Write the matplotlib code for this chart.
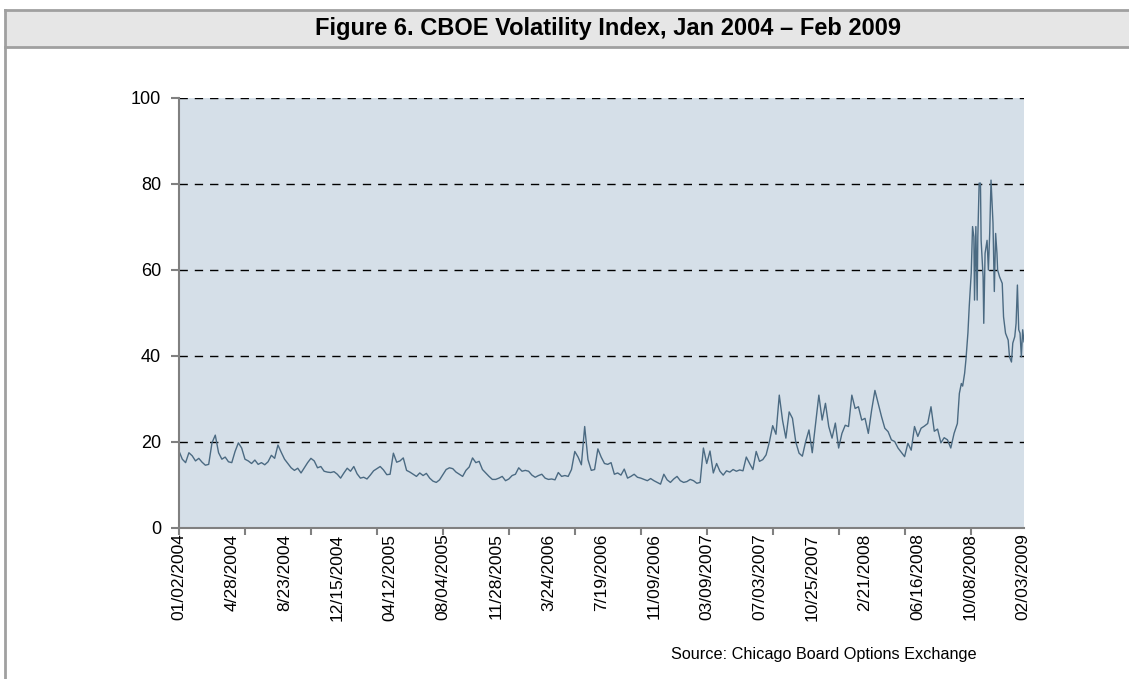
import numpy as np
import matplotlib.pyplot as plt
from matplotlib.patches import Rectangle
from matplotlib.lines import Line2D

plt.rcParams['font.family'] = ['Liberation Sans', 'DejaVu Sans']

# VIX close, one reading every 5th trading day starting 01/02/2004
vix_weekly = [
    17.9, 16.0, 15.2, 17.5, 16.8, 15.6, 16.2, 15.3, 14.6, 14.8, 19.8, 21.6, 17.5, 16.0, 16.5, 15.4,
    15.2, 17.8, 19.8, 18.6, 16.0, 15.6, 15.0, 15.8, 14.8, 15.2, 14.7, 15.4, 16.9, 16.2, 19.3, 17.6,
    16.0, 15.0, 14.0, 13.4, 13.9, 12.8, 14.0, 15.2, 16.2, 15.6, 14.0, 14.3, 13.2, 13.0, 12.9, 13.1,
    12.5, 11.6, 12.8, 13.9, 13.2, 14.3, 12.6, 11.6, 11.8, 11.4, 12.3, 13.3, 13.8, 14.3, 13.5, 12.4,
    12.5, 17.4, 15.3, 15.6, 16.3, 13.4, 13.0, 12.5, 12.0, 12.8, 12.2, 12.7, 11.6, 10.9, 10.6, 11.2,
    12.4, 13.6, 14.0, 13.8, 13.0, 12.5, 12.0, 13.4, 14.2, 16.3, 15.2, 15.5, 13.6, 12.8, 12.0, 11.3,
    11.3, 11.6, 12.0, 11.0, 11.4, 12.2, 12.5, 14.0, 13.2, 13.4, 13.2, 12.3, 11.8, 12.2, 12.5, 11.6,
    11.3, 11.4, 11.2, 12.9, 12.0, 12.2, 12.0, 13.6, 17.8, 16.5, 14.7, 23.6, 15.9, 13.4, 13.6, 18.4,
    16.5, 15.0, 14.8, 15.2, 12.5, 12.8, 12.3, 13.7, 11.6, 12.0, 12.5, 11.8, 11.6, 11.3, 11.0, 11.5,
    11.0, 10.6, 10.2, 12.5, 11.2, 10.6, 11.4, 12.0, 11.0, 10.6, 10.8, 11.3, 11.0, 10.4, 10.6, 18.6,
    15.0, 17.9, 12.8, 15.0, 13.2, 12.3, 13.3, 13.0, 13.6, 13.2, 13.5, 13.3, 16.5, 15.0, 13.6, 17.8,
    15.5, 15.9, 17.0, 20.0, 23.8, 21.8, 30.9, 25.0, 20.9, 27.0, 25.5, 20.0, 17.4, 16.7, 20.1, 22.8,
    17.5, 24.3, 30.9, 25.1, 29.0, 23.6, 20.9, 24.4, 18.6, 22.0, 23.9, 23.6, 30.9, 27.8, 28.2, 25.1,
    25.5, 22.0, 27.4, 32.0, 29.0, 25.9, 23.2, 22.4, 20.5, 20.1, 18.6, 17.6, 16.6, 19.7, 18.1, 23.6,
    21.3, 23.2, 23.7, 24.3, 28.2, 22.5, 23.0, 19.8, 21.0, 20.5, 18.6, 22.0, 24.3,
]

# finer readings through the Sep 2008 - Feb 2009 spike (trading day number)
crisis_day = [1183, 1186, 1188, 1191, 1193, 1196, 1198, 1201, 1203, 1205,
              1206, 1208, 1210, 1211, 1213, 1215, 1216, 1219, 1220, 1222,
              1225, 1227, 1229, 1231, 1234, 1236, 1238, 1240, 1241, 1244,
              1248, 1250, 1253, 1257, 1259, 1262, 1264, 1267, 1269, 1271,
              1273, 1275, 1277, 1279, 1281]
crisis_vix = [31.3, 33.6, 33.0, 36.0, 39.2, 45.4, 51.6, 59.3, 70.1, 67.7,
              53.0, 70.1, 53.0, 67.7, 80.2, 80.2, 66.9, 58.4, 47.6, 63.9,
              66.9, 60.0, 68.5, 80.9, 70.9, 55.0, 68.5, 63.9, 60.0, 58.4,
              56.9, 49.1, 45.3, 43.7, 39.8, 38.6, 43.0, 44.5, 47.6, 56.5,
              46.1, 45.3, 39.8, 46.1, 43.3]

date_labels = ['01/02/2004', '4/28/2004', '8/23/2004', '12/15/2004', '04/12/2005',
               '08/04/2005', '11/28/2005', '3/24/2006', '7/19/2006', '11/09/2006',
               '03/09/2007', '07/03/2007', '10/25/2007', '2/21/2008', '06/16/2008',
               '10/08/2008', '02/03/2009']

day = np.concatenate([np.arange(len(vix_weekly)) * 5, crisis_day])
vix = np.concatenate([vix_weekly, crisis_vix])

fig = plt.figure(figsize=(11.29, 6.79), dpi=100)

# frame + grey title band
W, H = 1129, 679
fig.patches.append(Rectangle((5 / W, 1 - 47 / H), 1, 37 / H, transform=fig.transFigure,
                             facecolor='#e6e6e6', edgecolor='none', zorder=0))
frame = dict(transform=fig.transFigure, color='#a0a0a0', lw=2)
fig.lines.append(Line2D([5 / W, 5 / W], [0, 1 - 10 / H], **frame))
fig.lines.append(Line2D([5 / W, 1], [1 - 10 / H, 1 - 10 / H], **frame))
fig.lines.append(Line2D([5 / W, 1], [1 - 47 / H, 1 - 47 / H], **frame))
fig.text(608 / W, 1 - 29 / H, 'Figure 6. CBOE Volatility Index, Jan 2004 \u2013 Feb 2009',
         ha='center', va='center', fontsize=17, fontweight='bold')

ax = fig.add_axes([179 / W, 1 - 528 / H, 845 / W, 430 / H])
ax.set_facecolor('#d5dfe8')
ax.plot(day, vix, color='#4b6a82', lw=1.0)

ax.set_xlim(0, 1281)
ax.set_ylim(0, 100)
ax.set_yticks(np.arange(0, 101, 20))
ax.yaxis.grid(True, color='black', lw=1, linestyle=(0, (6, 5)))
ax.set_axisbelow(True)

# tick marks every 100 days, date labels every 80 days
ax.xaxis.remove_overlapping_locs = False
ax.set_xticks(np.arange(0, 1281, 100))
ax.set_xticklabels([])
ax.set_xticks(np.arange(len(date_labels)) * 80, date_labels, minor=True, rotation=90)
ax.tick_params(axis='x', which='minor', length=0, pad=4, labelsize=12.5)
ax.tick_params(axis='x', which='major', length=5, width=1.5, color='#808080')
ax.tick_params(axis='y', length=6, width=1.5, color='#808080', labelsize=13, pad=7)

for s in ['top', 'right']:
    ax.spines[s].set_visible(False)
for s in ['left', 'bottom']:
    ax.spines[s].set_color('#808080')
    ax.spines[s].set_linewidth(1.5)

fig.text(824 / W, 1 - 655 / H, 'Source: Chicago Board Options Exchange',
         ha='center', va='center', fontsize=11.7)

fig.savefig('out.png', dpi=100)
